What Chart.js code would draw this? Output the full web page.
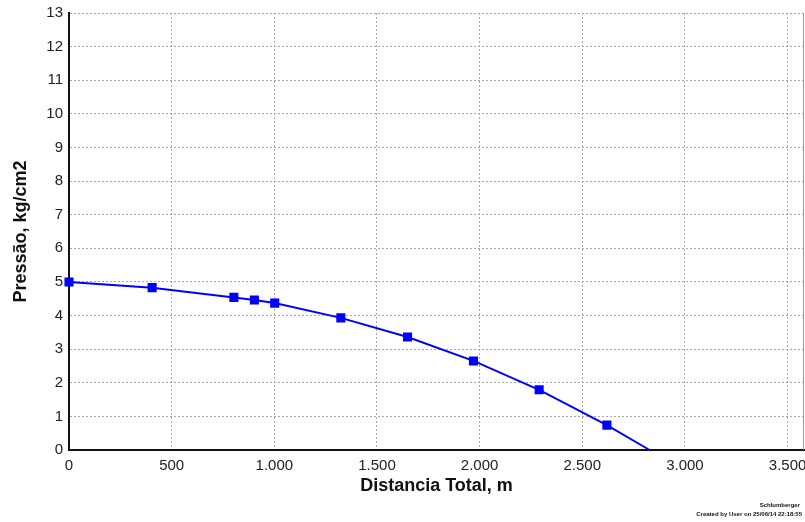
<!DOCTYPE html>
<html>
<head>
<meta charset="utf-8">
<script src="https://cdn.jsdelivr.net/npm/chart.js@4/dist/chart.umd.min.js"></script>
<style>
  html, body { margin: 0; padding: 0; background: #ffffff; }
  #wrap { position: relative; width: 805px; height: 522px; }
</style>
</head>
<body>
<div id="wrap"><canvas id="c" width="805" height="522"></canvas></div>
<script>
// Distância total ao longo da linha (m) e pressão calculada (kg/cm2)
const distancia = [0, 405, 803, 903, 1002, 1324, 1649, 1970, 2290, 2620, 2828];
const pressao   = [5.00, 4.83, 4.54, 4.46, 4.37, 3.93, 3.36, 2.65, 1.79, 0.74, 0.00];
// último ponto é o fim do perfil (sem marcador)
const comMarcador = [true, true, true, true, true, true, true, true, true, true, false];

// marcas dos eixos
const xTicks = [0, 500, 1000, 1500, 2000, 2500, 3000, 3500];
const yTicks = [0, 1, 2, 3, 4, 5, 6, 7, 8, 9, 10, 11, 12, 13];

const xTitulo = 'Distancia Total, m';
const yTitulo = 'Pressão, kg/cm2';
const rodape = ['Schlumberger', 'Created by User on 25/06/14 22:18:55'];

const pontos = distancia.map((d, i) => ({ x: d, y: pressao[i] }));

const fmt = new Intl.NumberFormat('pt-BR');

const molduraDireita = {
  id: 'molduraDireita',
  afterDraw(chart) {
    const { ctx, chartArea: a } = chart;
    ctx.save();
    ctx.strokeStyle = '#9a9a9a';
    ctx.lineWidth = 1;
    ctx.beginPath();
    ctx.moveTo(a.right - 0.5, a.top);
    ctx.lineTo(a.right - 0.5, a.bottom);
    ctx.stroke();
    ctx.restore();
  }
};

const textoRodape = {
  id: 'textoRodape',
  afterDraw(chart) {
    const ctx = chart.ctx;
    ctx.save();
    ctx.fillStyle = '#111';
    ctx.textAlign = 'right';
    ctx.textBaseline = 'middle';
    ctx.font = 'bold 6px "Liberation Sans", Arial, sans-serif';
    ctx.fillText(rodape[0], 800, 505);
    ctx.fillText(rodape[1], 802, 514);
    ctx.restore();
  }
};

const semMargens = s => {
  s.paddingLeft = 0; s.paddingRight = 0; s.paddingTop = 0; s.paddingBottom = 0;
};

const gradeCor = '#a8a8a8';
const fonteTicks = { family: '"Liberation Sans", Arial, sans-serif', size: 15 };
const fonteTitulo = { family: '"Liberation Sans", Arial, sans-serif', size: 18, weight: 'bold' };

new Chart(document.getElementById('c'), {
  type: 'line',
  data: {
    datasets: [{
      data: pontos,
      borderColor: '#0000ff',
      backgroundColor: '#0000ff',
      borderWidth: 2,
      pointStyle: 'rect',
      pointRadius: ctx => comMarcador[ctx.dataIndex] ? 5 : 0,
      pointHoverRadius: 5,
      tension: 0,
      clip: false
    }]
  },
  options: {
    responsive: false,
    animation: false,
    events: [],
    layout: { autoPadding: false, padding: { top: 13, right: 1, left: 0, bottom: 0 } },
    plugins: { legend: { display: false }, tooltip: { enabled: false } },
    scales: {
      x: {
        type: 'linear',
        min: 0,
        max: 3580,
        afterFit: s => { s.height = 72; semMargens(s); },
        afterBuildTicks: s => { s.ticks = xTicks.map(v => ({ value: v })); },
        ticks: {
          maxRotation: 0,
          autoSkip: false,
          padding: 7,
          color: '#222',
          font: fonteTicks,
          callback: v => fmt.format(v)
        },
        grid: { color: gradeCor, lineWidth: 1, drawTicks: false },
        border: { display: true, color: '#111', width: 2, dash: [2, 2] },
        title: { display: true, text: xTitulo, color: '#111', font: fonteTitulo, padding: { top: 0, bottom: 25 } }
      },
      y: {
        min: 0,
        max: 13,
        afterFit: s => { s.width = 69; semMargens(s); },
        afterBuildTicks: s => { s.ticks = yTicks.map(v => ({ value: v })); },
        ticks: {
          autoSkip: false,
          padding: 6,
          color: '#222',
          font: fonteTicks
        },
        grid: { color: gradeCor, lineWidth: 1, drawTicks: false },
        border: { display: true, color: '#111', width: 2, dash: [2, 2] },
        title: { display: true, text: yTitulo, color: '#111', font: fonteTitulo, padding: { top: 10, bottom: 0 } }
      }
    }
  },
  plugins: [molduraDireita, textoRodape]
});
</script>
</body>
</html>
